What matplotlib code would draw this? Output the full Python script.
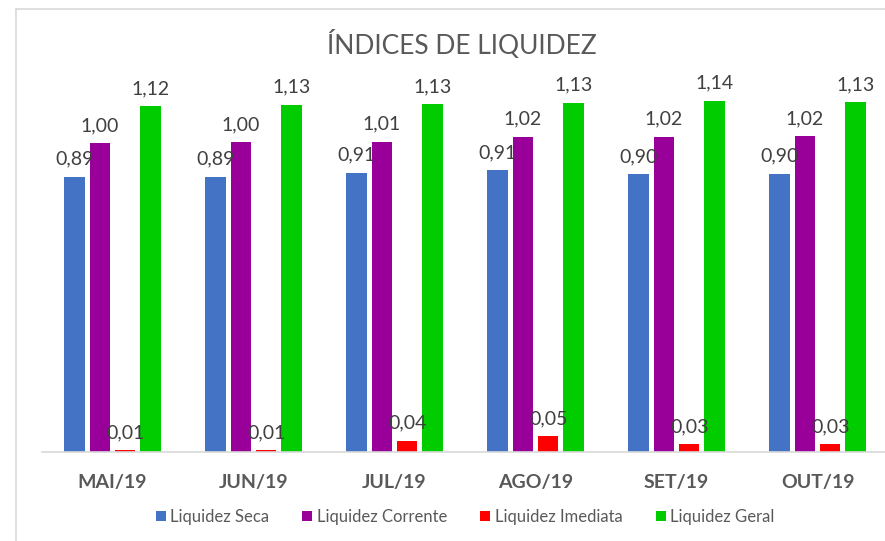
import matplotlib.pyplot as plt
import numpy as np

categories = ['MAI/19', 'JUN/19', 'JUL/19', 'AGO/19', 'SET/19', 'OUT/19']
seca = [0.893, 0.893, 0.906, 0.914, 0.901, 0.902]
corrente = [1.002, 1.004, 1.006, 1.022, 1.022, 1.024]
imediata = [0.006, 0.006, 0.036, 0.052, 0.026, 0.025]
geral = [1.121, 1.127, 1.128, 1.133, 1.139, 1.134]

series = [
    ('Liquidez Seca', seca, '#4472C4'),
    ('Liquidez Corrente', corrente, '#990099'),
    ('Liquidez Imediata', imediata, '#FF0000'),
    ('Liquidez Geral', geral, '#00CC00'),
]

plt.rcParams['font.family'] = ['Lato', 'DejaVu Sans']

W, H = 885, 541
fig = plt.figure(figsize=(W / 100, H / 100), dpi=100)

# chart frame (left and top edges visible, rest cropped)
fig.add_artist(plt.Line2D([16 / W, 16 / W], [0, 1 - 9 / H], color='#d9d9d9', lw=1.2))
fig.add_artist(plt.Line2D([16 / W, 1], [1 - 9 / H, 1 - 9 / H], color='#d9d9d9', lw=1.2))

left, right = 42 / W, 888 / W
bottom = 1 - 452 / H
top = 1 - 82 / H
ax = fig.add_axes([left, bottom, right - left, top - bottom])

x = np.arange(len(categories))
bw = 0.145
step = 0.18
for i, (name, vals, col) in enumerate(series):
    pos = x + (i - 1.5) * step
    bars = ax.bar(pos, vals, width=bw, color=col, label=name)
    for b, v in zip(bars, vals):
        ax.annotate(f'{v:.2f}'.replace('.', ','), (b.get_x() + b.get_width() / 2, v),
                    xytext=(0, 6.5), textcoords='offset points', ha='center', va='bottom',
                    fontsize=14, color='#404040')

ax.set_xlim(-0.5, len(categories) - 0.5)
ax.set_ylim(0, 1.2)
ax.set_yticks([])
ax.set_xticks(x)
ax.set_xticklabels(categories, fontsize=14, fontweight='bold', color='#595959')
ax.tick_params(axis='x', length=0, pad=16)
for s in ['top', 'right', 'left']:
    ax.spines[s].set_visible(False)
ax.spines['bottom'].set_color('#d9d9d9')
ax.spines['bottom'].set_linewidth(1.2)

fig.text(462 / W, 1 - 45 / H, 'ÍNDICES DE LIQUIDEZ', ha='center', va='center',
         fontsize=19, color='#595959')

fig.legend(loc='center', bbox_to_anchor=(465 / W, 1 - 517 / H), ncol=4, frameon=False,
           fontsize=12, handlelength=0.6, handleheight=0.6, handletextpad=0.25,
           columnspacing=2.0, labelcolor='#595959')

fig.savefig('out.png', dpi=100)
